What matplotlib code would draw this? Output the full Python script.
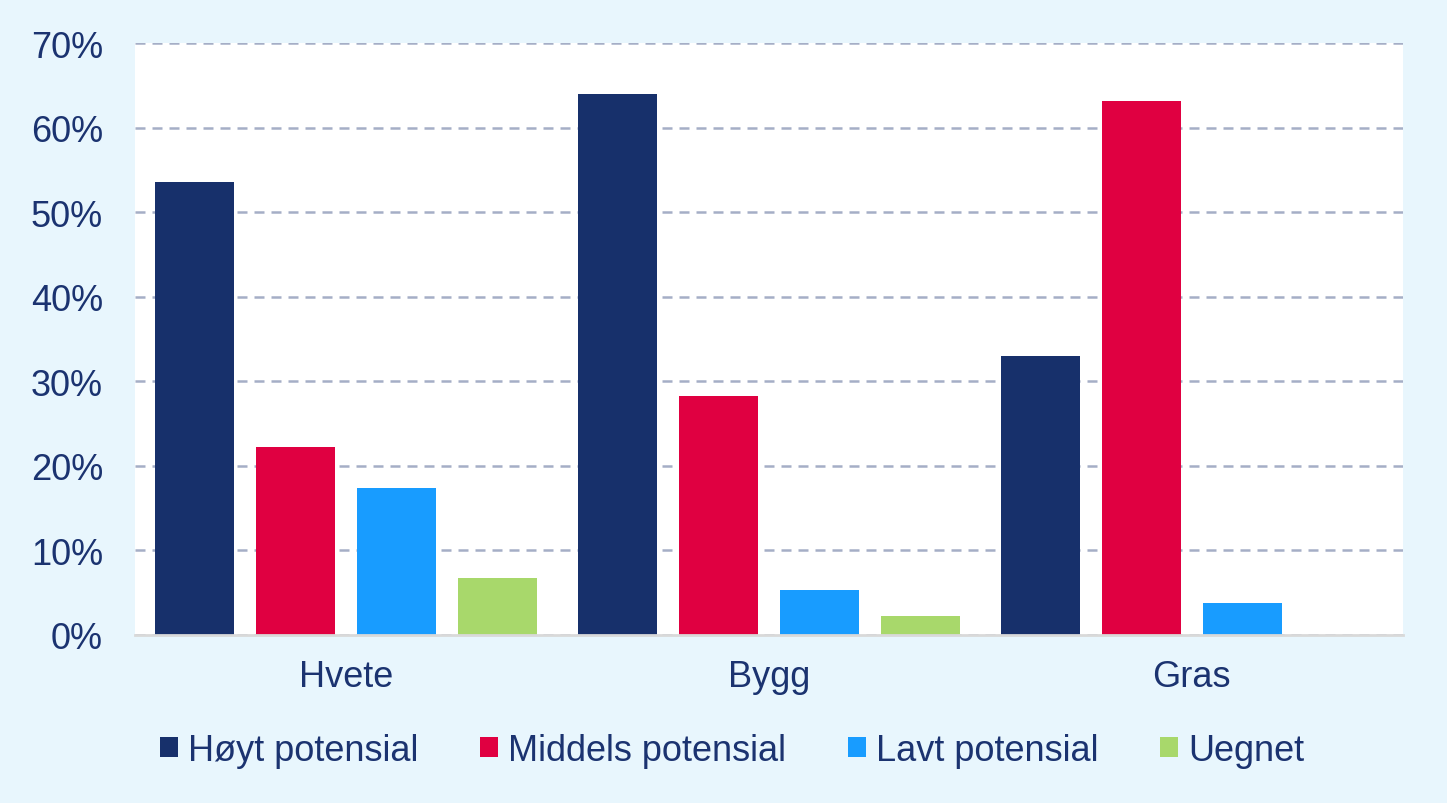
import numpy as np
import matplotlib
matplotlib.use('Agg')
import matplotlib.pyplot as plt
from matplotlib.ticker import PercentFormatter

plt.rcParams['font.family'] = ['Liberation Sans', 'DejaVu Sans']

# Data
categories = ['Hvete', 'Bygg', 'Gras']
series_names = ['Høyt potensial', 'Middels potensial', 'Lavt potensial', 'Uegnet']
hoyt = [53.6, 64.0, 33.0]
middels = [22.2, 28.3, 63.1]
lavt = [17.4, 5.3, 3.8]
uegnet = [6.7, 2.2, 0.0]
yticks = [0, 10, 20, 30, 40, 50, 60, 70]

colors = ['#17306B', '#E00041', '#189CFF', '#A8D86B']
text_color = '#1B3370'
bg_color = '#E8F6FD'

fig = plt.figure(figsize=(14.47, 8.04), dpi=100, facecolor=bg_color)
ax = fig.add_axes([135 / 1447, 168 / 804, 1268 / 1447, 592 / 804])
ax.set_facecolor('white')

x = np.arange(len(categories))
step = 0.239
width = 0.187
for i, (name, vals) in enumerate(zip(series_names, [hoyt, middels, lavt, uegnet])):
    ax.bar(x + (i - 1.5) * step, vals, width=width, color=colors[i], label=name, zorder=3)

ax.set_xlim(-0.5, len(categories) - 0.5)
ax.set_ylim(0, 70)
ax.set_yticks(yticks)
ax.yaxis.set_major_formatter(PercentFormatter(decimals=0))
ax.set_xticks(x)
ax.set_xticklabels(categories)

ax.yaxis.grid(True, color='#A5AEC6', linewidth=1.8, linestyle=(0, (4, 2.8)), zorder=1)
ax.set_axisbelow(True)

for side in ['left', 'top', 'right']:
    ax.spines[side].set_visible(False)
ax.spines['bottom'].set_color('#D9D9D9')
ax.spines['bottom'].set_linewidth(2)
ax.spines['bottom'].set_zorder(4)

ax.tick_params(axis='y', length=0, pad=23, labelsize=26, labelcolor=text_color)
ax.tick_params(axis='x', length=0, pad=17, labelsize=26, labelcolor=text_color)

leg = ax.legend(loc='center', bbox_to_anchor=(0.471, -0.195), ncol=4, frameon=False,
                fontsize=26, handlelength=0.5, handleheight=0.5, handletextpad=0.28,
                columnspacing=1.7)
for t in leg.get_texts():
    t.set_color(text_color)

fig.savefig('out.png', dpi=100, facecolor=bg_color)
